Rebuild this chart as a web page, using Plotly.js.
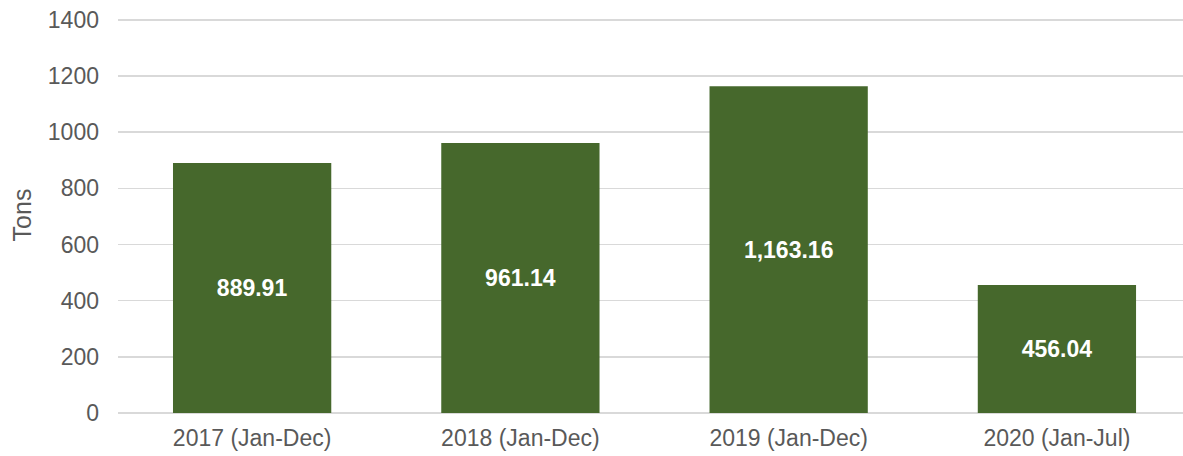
<!DOCTYPE html>
<html><head><meta charset="utf-8">
<script src="https://cdn.plot.ly/plotly-3.0.1.min.js"></script>
<style>html,body{margin:0;padding:0;background:#fff}#chart{width:1183px;height:456px}</style>
</head><body><div id="chart"></div>
<script>
const categories = ["2017 (Jan-Dec)", "2018 (Jan-Dec)", "2019 (Jan-Dec)", "2020 (Jan-Jul)"];
const tons = [889.91, 961.14, 1163.16, 456.04];
const yTicks = [0, 200, 400, 600, 800, 1000, 1200, 1400];

const trace = {
  type: "bar",
  x: categories,
  y: tons,
  width: 0.59,
  marker: {color: "#46682C"},
  texttemplate: "%{y:,.2f}",
  textposition: "inside",
  insidetextanchor: "middle",
  textangle: 0,
  textfont: {family: "Liberation Sans, Arial, sans-serif", size: 23, color: "#ffffff", weight: "bold"},
  hoverinfo: "none"
};
const layout = {
  width: 1183, height: 456,
  margin: {l: 118, r: 0, t: 17, b: 43},
  paper_bgcolor: "#fff", plot_bgcolor: "#fff",
  showlegend: false,
  font: {family: "Liberation Sans, Arial, sans-serif", color: "#595959", size: 23},
  xaxis: {range: [-0.5, 3.47], showgrid: false, zeroline: false, showline: false, ticks: "", ticklabelstandoff: 9,
          tickfont: {size: 23, color: "#595959"}},
  yaxis: {range: [0, 1410], tickvals: yTicks, ticktext: yTicks.map(String), showgrid: true, gridcolor: "#D9D9D9", gridwidth: 1.5,
          zeroline: true, zerolinecolor: "#D9D9D9", zerolinewidth: 1.5, ticks: "", ticklabelstandoff: 18,
          tickfont: {size: 23, color: "#595959"},
          title: {text: "Tons", font: {size: 25, color: "#595959"}, standoff: 9}}
};
Plotly.newPlot("chart", [trace], layout, {staticPlot: true});
</script></body></html>
